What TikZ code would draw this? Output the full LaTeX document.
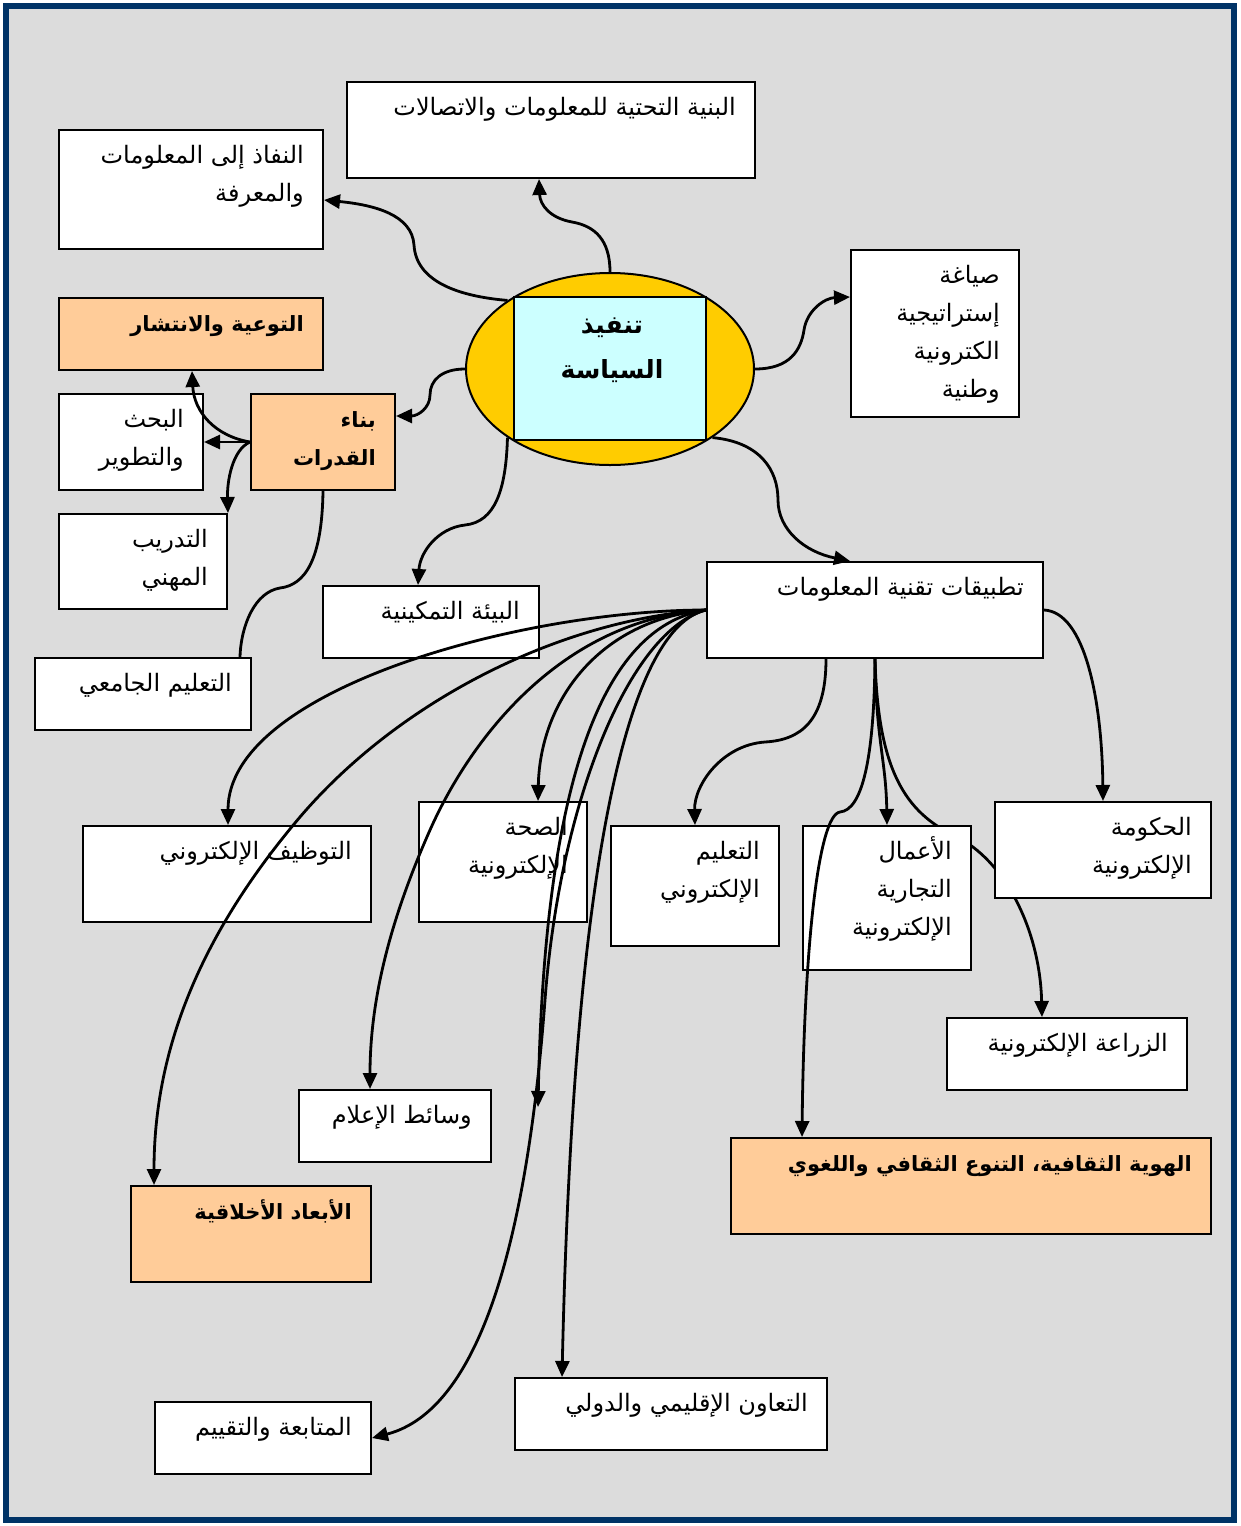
\documentclass[tikz,border=0pt]{standalone}
\usepackage{fontspec}
\newfontfamily\arabicfont[Script=Arabic]{DejaVu Sans}
\usetikzlibrary{shapes.geometric,arrows.meta,calc}
\TeXXeTstate=1
\newcommand{\artext}[1]{\beginR #1\endR}

\newlength{\du}
\setlength{\du}{1pt}

\definecolor{panelgray}{RGB}{220,220,220}
\definecolor{framecolor}{RGB}{0,51,102}
\definecolor{keyfill}{RGB}{255,204,153}
\definecolor{hubfill}{RGB}{255,204,0}
\definecolor{corefill}{RGB}{204,255,255}

\pgfdeclarelayer{backdrop}
\pgfdeclarelayer{under}
\pgfsetlayers{backdrop,under,main}

\tikzset{
  plainbox/.style={draw=black, fill=white, line width=2\du, inner sep=0pt, anchor=north west},
  keybox/.style={plainbox, fill=keyfill},
  tag/.style={font=\arabicfont\fontsize{24}{38}\selectfont, align=right, inner sep=0pt, anchor=base east},
  keytag/.style={tag, font=\arabicfont\bfseries\fontsize{21}{38}\selectfont},
  bare link/.style={line width=2.8\du},
  link/.style={bare link, -{Triangle[length=16pt,width=14pt]}},
}

\begin{document}
\begin{tikzpicture}
\pgftransformxscale{1.000000}
\pgftransformyscale{-1.000000}
\useasboundingbox (0\du,0\du) rectangle (1240\du,1526\du);
\begin{pgfonlayer}{backdrop}
\fill[panelgray] (6\du,6\du) rectangle (1234\du,1520\du);
\draw[framecolor, line width=6\du] (6\du,6\du) rectangle (1234\du,1520\du);
\end{pgfonlayer}

% centre
\node[ellipse, draw=black, fill=hubfill, line width=2\du, minimum width=288\du, minimum height=192\du, inner sep=0pt] (policy) at (610\du,369\du) {};
\node[draw=black, fill=corefill, line width=2\du, minimum width=192\du, minimum height=143\du, inner sep=0pt] (policy-core) at (610\du,368.5\du) {};
\node[font=\arabicfont\bfseries\fontsize{25}{45}\selectfont, align=center, inner sep=0pt, anchor=base] (policy-t) at (612\du,378\du) {\artext{تنفيذ}\\\artext{السياسة}};

% upper boxes (base of a text node = its last line)
\node[plainbox, minimum width=408\du, minimum height=96\du] (infra) at (346\du,81\du) {};
\node[tag] (infra-t) at ($(infra.north east)+(-20\du,34\du)$) {\artext{البنية التحتية للمعلومات والاتصالات}};
\node[plainbox, minimum width=264\du, minimum height=119\du] (access) at (58\du,129\du) {};
\node[tag] (access-t) at ($(access.north east)+(-20\du,72\du)$) {\artext{النفاذ إلى المعلومات}\\\artext{والمعرفة}};
\node[keybox, minimum width=264\du, minimum height=72\du] (awareness) at (58\du,297\du) {};
\node[keytag] (awareness-t) at ($(awareness.north east)+(-20\du,34\du)$) {\artext{التوعية والانتشار}};
\node[plainbox, minimum width=168\du, minimum height=167\du] (strategy) at (850\du,249\du) {};
\node[tag] (strategy-t) at ($(strategy.north east)+(-20\du,148\du)$) {\artext{صياغة}\\\artext{إستراتيجية}\\\artext{الكترونية}\\\artext{وطنية}};

% capacity group
\node[keybox, minimum width=144\du, minimum height=96\du] (capacity) at (250\du,393\du) {};
\node[keytag] (capacity-t) at ($(capacity.north east)+(-20\du,72\du)$) {\artext{بناء}\\\artext{القدرات}};
\node[plainbox, minimum width=144\du, minimum height=96\du] (research) at (58\du,393\du) {};
\node[tag] (research-t) at ($(research.north east)+(-20\du,72\du)$) {\artext{البحث}\\\artext{والتطوير}};
\node[plainbox, minimum width=168\du, minimum height=95\du] (training) at (58\du,513\du) {};
\node[tag] (training-t) at ($(training.north east)+(-20\du,72\du)$) {\artext{التدريب}\\\artext{المهني}};
\node[plainbox, minimum width=216\du, minimum height=72\du] (university) at (34\du,657\du) {};
\node[tag] (university-t) at ($(university.north east)+(-20\du,34\du)$) {\artext{التعليم الجامعي}};
\node[plainbox, minimum width=216\du, minimum height=72\du] (enabling) at (322\du,585\du) {};
\node[tag] (enabling-t) at ($(enabling.north east)+(-20\du,34\du)$) {\artext{البيئة التمكينية}};

% applications
\node[plainbox, minimum width=336\du, minimum height=96\du] (ita) at (706\du,561\du) {};
\node[tag] (ita-t) at ($(ita.north east)+(-20\du,34\du)$) {\artext{تطبيقات تقنية المعلومات}};
\node[plainbox, minimum width=216\du, minimum height=96\du] (egov) at (994\du,801\du) {};
\node[tag] (egov-t) at ($(egov.north east)+(-20\du,72\du)$) {\artext{الحكومة}\\\artext{الإلكترونية}};
\node[plainbox, minimum width=168\du, minimum height=144\du] (ebiz) at (802\du,825\du) {};
\node[tag] (ebiz-t) at ($(ebiz.north east)+(-20\du,110\du)$) {\artext{الأعمال}\\\artext{التجارية}\\\artext{الإلكترونية}};
\node[plainbox, minimum width=168\du, minimum height=120\du] (elearn) at (610\du,825\du) {};
\node[tag] (elearn-t) at ($(elearn.north east)+(-20\du,72\du)$) {\artext{التعليم}\\\artext{الإلكتروني}};
\node[plainbox, minimum width=168\du, minimum height=120\du] (ehealth) at (418\du,801\du) {};
\node[tag] (ehealth-t) at ($(ehealth.north east)+(-20\du,72\du)$) {\artext{الصحة}\\\artext{الإلكترونية}};
\node[plainbox, minimum width=288\du, minimum height=96\du] (eemploy) at (82\du,825\du) {};
\node[tag] (eemploy-t) at ($(eemploy.north east)+(-20\du,34\du)$) {\artext{التوظيف الإلكتروني}};
\node[plainbox, minimum width=240\du, minimum height=72\du] (eagri) at (946\du,1017\du) {};
\node[tag] (eagri-t) at ($(eagri.north east)+(-20\du,34\du)$) {\artext{الزراعة الإلكترونية}};
\node[plainbox, minimum width=192\du, minimum height=72\du] (media) at (298\du,1089\du) {};
\node[tag] (media-t) at ($(media.north east)+(-20\du,34\du)$) {\artext{وسائط الإعلام}};
\node[keybox, minimum width=480\du, minimum height=96\du] (culture) at (730\du,1137\du) {};
\node[keytag] (culture-t) at ($(culture.north east)+(-20\du,34\du)$) {\artext{الهوية الثقافية، التنوع الثقافي واللغوي}};
\node[keybox, minimum width=240\du, minimum height=96\du] (ethics) at (130\du,1185\du) {};
\node[keytag] (ethics-t) at ($(ethics.north east)+(-20\du,34\du)$) {\artext{الأبعاد الأخلاقية}};
\node[plainbox, minimum width=312\du, minimum height=72\du] (intl) at (514\du,1377\du) {};
\node[tag] (intl-t) at ($(intl.north east)+(-20\du,34\du)$) {\artext{التعاون الإقليمي والدولي}};
\node[plainbox, minimum width=216\du, minimum height=72\du] (monitor) at (154\du,1401\du) {};
\node[tag] (monitor-t) at ($(monitor.north east)+(-20\du,34\du)$) {\artext{المتابعة والتقييم}};
\coordinate (loose) at (538\du,1107\du);

% runs behind the boxes
\begin{pgfonlayer}{under}
\draw[link] (ita.south) .. controls (878\du,770\du) and (905\du,812\du) .. (955\du,836\du) .. controls (1005\du,860\du) and (1040\du,930\du) .. ($(eagri.north west)+(96\du,0\du)$);
\end{pgfonlayer}

% from the centre
\draw[link] (policy.north west) .. controls (455\du,296\du) and (416\du,280\du) .. (414\du,245\du) .. controls (412\du,215\du) and (375\du,205\du) .. ($(access.north east)+(0\du,71\du)$);
\draw[link] (policy.north) .. controls (610\du,240\du) and (595\du,226\du) .. (572\du,222\du) .. controls (550\du,218\du) and (540\du,205\du) .. ($(infra.south)+(-12\du,0\du)$);
\draw[link] (policy.east) .. controls (790\du,369\du) and (801\du,350\du) .. (804\du,330\du) .. controls (807\du,310\du) and (825\du,298\du) .. ($(strategy.north west)+(0\du,48\du)$);
\draw[link] (policy.west) .. controls (442\du,369\du) and (430\du,380\du) .. (430\du,395\du) .. controls (430\du,408\du) and (418\du,416\du) .. ($(capacity.north east)+(0\du,23\du)$);
\draw[link] (policy.south west) .. controls (506\du,490\du) and (495\du,522\du) .. (465\du,525\du) .. controls (438\du,528\du) and (420\du,552\du) .. ($(enabling.north west)+(96\du,0\du)$);
\draw[link] (policy.south east) .. controls (760\du,442\du) and (778\du,470\du) .. (778\du,500\du) .. controls (778\du,530\du) and (805\du,552\du) .. ($(ita.north west)+(144\du,0\du)$);

% capacity building
\draw[link] (capacity.west) -- (research.east);
\draw[link] (capacity.west) .. controls (215\du,436\du) and (194\du,412\du) .. ($(awareness.south west)+(134\du,0\du)$);
\draw[link] (capacity.west) .. controls (232\du,450\du) and (227\du,482\du) .. (training.north east);
\draw[bare link] (capacity.south) .. controls (322\du,560\du) and (305\du,585\du) .. (280\du,588\du) .. controls (255\du,592\du) and (241\du,625\du) .. ($(university.north west)+(206\du,0\du)$);

% applications
\draw[link] ($(ita.north east)+(0\du,49\du)$) .. controls (1085\du,612\du) and (1102\du,700\du) .. (egov.north);
\draw[link] ($(ita.south west)+(120\du,0\du)$) .. controls (826\du,722\du) and (800\du,740\du) .. (765\du,742\du) .. controls (722\du,745\du) and (694\du,785\du) .. (elearn.north);
\draw[link] (ita.south) .. controls (876\du,740\du) and (886\du,760\du) .. (ebiz.north);
\draw[link] (ita.south) .. controls (874\du,760\du) and (862\du,810\du) .. (840\du,812\du) .. controls (818\du,815\du) and (804\du,950\du) .. ($(culture.north west)+(72\du,0\du)$);
\draw[link] (ita.west) .. controls (520\du,610\du) and (228\du,690\du) .. ($(eemploy.north west)+(146\du,0\du)$);
\draw[link] (ita.west) .. controls (560\du,620\du) and (400\du,700\du) .. (300\du,817\du) .. controls (200\du,935\du) and (154\du,1050\du) .. ($(ethics.north west)+(24\du,0\du)$);
\draw[link] (ita.west) .. controls (560\du,620\du) and (470\du,740\du) .. (430\du,830\du) .. controls (390\du,920\du) and (370\du,1000\du) .. ($(media.north west)+(72\du,0\du)$);
\draw[link] (ita.west) .. controls (600\du,620\du) and (540\du,700\du) .. ($(ehealth.north west)+(120\du,0\du)$);
\draw[link] (ita.west) .. controls (610\du,625\du) and (545\du,760\du) .. (loose);
\draw[link] (ita.west) .. controls (630\du,630\du) and (560\du,800\du) .. (545\du,1000\du) .. controls (527\du,1240\du) and (480\du,1410\du) .. (monitor.east);
\draw[link] (ita.west) .. controls (640\du,625\du) and (575\du,800\du) .. ($(intl.north west)+(48\du,0\du)$);
\end{tikzpicture}
\end{document}
